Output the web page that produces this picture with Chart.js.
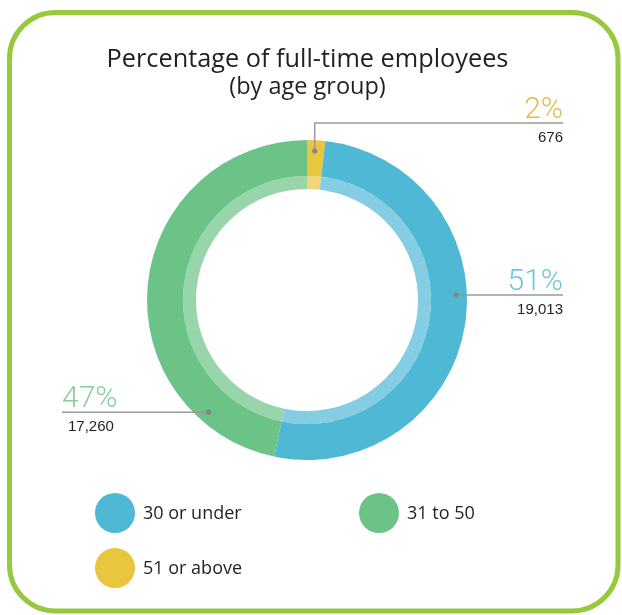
<!DOCTYPE html>
<html>
<head>
<meta charset="utf-8">
<title>Full-time employees by age group</title>
<script src="https://cdn.jsdelivr.net/npm/chart.js@4/dist/chart.umd.min.js"></script>
<style>
  html, body { margin: 0; padding: 0; background: #fff; }
  #wrap { width: 622px; height: 615px; }
</style>
</head>
<body>
<div id="wrap"><canvas id="myChart" width="622" height="615"></canvas></div>
<script>
// Data
var ageGroups = ['30 or under', '31 to 50', '51 or above'];
var employees = [19013, 17260, 676];

// ring goes clockwise from 12 o'clock: 51+, then 30-, then 31-50
var ringOrder = [2, 0, 1];

var darkColors = ['#4fb8d5', '#6cc388', '#e8c63d'];
var lightColors = ['#85cde2', '#98d5aa', '#f0d677'];
var percentColors = ['#6fc6e1', '#88d09d', '#e2bd4d'];

// callouts: where on the segment the dot sits, where the line ends, optional elbow height
var calloutAt = [0.44, 0.175, 0.45];
var calloutEnd = [563, 62, 563];
var calloutLevel = [null, null, 123];

// legend slots (circle centres)
var legendX = [115, 379, 115];
var legendY = [513, 513, 568];

var titleText = 'Percentage of full-time employees';
var subtitleText = '(by age group)';

//-----------------

var ringValues = ringOrder.map(function(i){ return employees[i]; });
var ringLabels = ringOrder.map(function(i){ return ageGroups[i]; });
var ringDark = ringOrder.map(function(i){ return darkColors[i]; });
var ringLight = ringOrder.map(function(i){ return lightColors[i]; });

function suma(array) {
    var num = 0;
    for (var i = 0; i < array.length; i++) num += array[i];
    return num;
}

var frame = {
    id: 'frame',
    beforeDraw: function(chart){
        var ctx = chart.ctx;
        ctx.save();
        ctx.fillStyle = '#ffffff';
        ctx.fillRect(0, 0, chart.width, chart.height);
        ctx.strokeStyle = '#97c93d';
        ctx.lineWidth = 5;
        ctx.beginPath();
        ctx.roundRect(9.5, 12.5, 608.5, 598.5, 46);
        ctx.stroke();

        ctx.fillStyle = '#231f20';
        ctx.textAlign = 'center';
        ctx.textBaseline = 'alphabetic';
        ctx.font = '400 25.3px "Open Sans"';
        ctx.fillText(titleText, 307.5, 67);
        ctx.font = '400 23.5px "Open Sans"';
        ctx.fillText(subtitleText, 307.5, 94);
        ctx.restore();
    }
};

var callouts = {
    id: 'callouts',
    afterDatasetsDraw: function(chart){
        var ctx = chart.ctx;
        var meta = chart.getDatasetMeta(0);
        var total = suma(employees);
        ctx.save();
        for (var i = 0; i < ageGroups.length; i++) {
            var arc = meta.data[ringOrder.indexOf(i)];
            var p = arc.getProps(['x', 'y', 'startAngle', 'endAngle', 'innerRadius', 'outerRadius'], true);
            var a = p.startAngle + calloutAt[i] * (p.endAngle - p.startAngle);
            var r = p.innerRadius + 0.7 * (p.outerRadius - p.innerRadius);
            var dx = p.x + r * Math.cos(a);
            var dy = p.y + r * Math.sin(a);
            var lineY = calloutLevel[i] === null ? dy : calloutLevel[i];
            var right = calloutEnd[i] > dx;

            ctx.strokeStyle = '#9a9a9a';
            ctx.lineWidth = 1.5;
            ctx.beginPath();
            ctx.moveTo(dx, dy);
            if (calloutLevel[i] !== null) ctx.lineTo(dx, lineY);
            ctx.lineTo(calloutEnd[i], lineY);
            ctx.stroke();

            ctx.fillStyle = '#858585';
            ctx.beginPath();
            ctx.arc(dx, dy, 2.6, 0, Math.PI * 2);
            ctx.fill();

            var pct = Math.round(employees[i] / total * 100) + '%';
            ctx.textAlign = right ? 'right' : 'left';
            ctx.textBaseline = 'alphabetic';
            ctx.fillStyle = percentColors[i];
            ctx.font = '300 30px Roboto';
            ctx.fillText(pct, calloutEnd[i], lineY - 5);

            ctx.fillStyle = '#231f20';
            ctx.font = '15px "Liberation Sans"';
            ctx.fillText(employees[i].toLocaleString('en-US'), right ? calloutEnd[i] : calloutEnd[i] + 6, lineY + 19);
        }
        ctx.restore();
    }
};

var circleLegend = {
    id: 'circleLegend',
    afterDraw: function(chart){
        var ctx = chart.ctx;
        ctx.save();
        for (var i = 0; i < ageGroups.length; i++) {
            ctx.fillStyle = darkColors[i];
            ctx.beginPath();
            ctx.arc(legendX[i], legendY[i], 20, 0, Math.PI * 2);
            ctx.fill();
            ctx.fillStyle = '#231f20';
            ctx.font = '400 18px "Open Sans"';
            ctx.textAlign = 'left';
            ctx.textBaseline = 'middle';
            ctx.fillText(ageGroups[i], legendX[i] + 28, legendY[i] + 1);
        }
        ctx.restore();
    }
};

var ctx = document.getElementById('myChart').getContext('2d');
var chart = new Chart(ctx, {
    type: 'doughnut',
    data: {
        labels: ringLabels,
        datasets: [{
            data: ringValues,
            backgroundColor: ringDark,
            borderWidth: 0,
            hoverOffset: 0,
            weight: 36
        }, {
            data: ringValues,
            backgroundColor: ringLight,
            borderWidth: 0,
            hoverOffset: 0,
            weight: 13
        }]
    },
    options: {
        responsive: false,
        animation: false,
        events: [],
        cutout: '69.4%',
        layout: { padding: { left: 147, right: 155, top: 140, bottom: 155 } },
        plugins: {
            legend: { display: false },
            tooltip: { enabled: false }
        }
    },
    plugins: [frame, callouts, circleLegend]
});
</script>
</body>
</html>
